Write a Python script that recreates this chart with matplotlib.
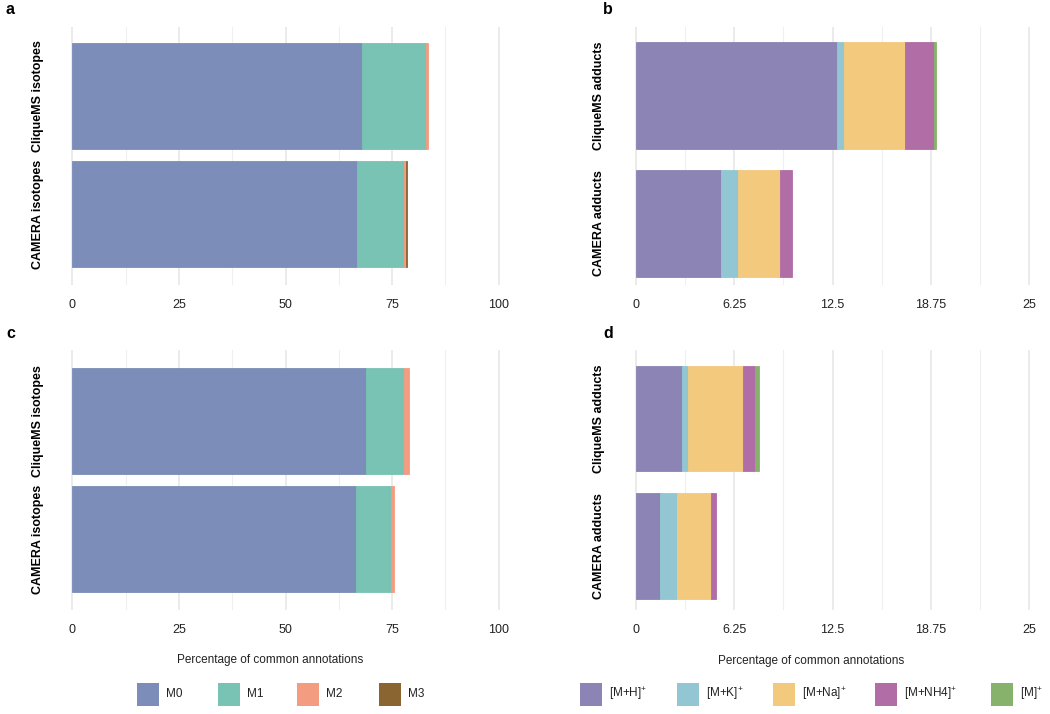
import matplotlib

matplotlib.use("Agg")
import matplotlib.pyplot as plt
import numpy as np
from matplotlib.patches import Rectangle

WIDTH = 1050
HEIGHT = 714
DPI = 100

plt.rcParams["font.family"] = ["Liberation Sans", "DejaVu Sans"]
plt.rcParams["mathtext.fontset"] = "custom"
plt.rcParams["mathtext.rm"] = "Liberation Sans"
plt.rcParams["mathtext.it"] = "Liberation Sans"

# data: percentage of common annotations, order = [CAMERA, CliqueMS]
ISOTOPES = ["M0", "M1", "M2", "M3"]
ISO_COLORS = ["#7b8db8", "#78c3b3", "#f39c80", "#8a6532"]
ADDUCTS = ["[M+H]$^{+}$", "[M+K]$^{+}$", "[M+Na]$^{+}$", "[M+NH4]$^{+}$", "[M]$^{+}$"]
ADD_COLORS = ["#8b84b4", "#92c6d3", "#f3c97e", "#b06da6", "#87b26b"]

ISO_LABELS = ["CAMERA isotopes", "CliqueMS isotopes"]
ADD_LABELS = ["CAMERA adducts", "CliqueMS adducts"]

# panel a
A_CAMERA = [66.7, 11.0, 0.6, 0.3]
A_CLIQUEMS = [67.9, 15.0, 0.5, 0.0]
# panel b
B_CAMERA = [5.41, 1.08, 2.67, 0.76, 0.0]
B_CLIQUEMS = [12.79, 0.44, 3.88, 1.85, 0.12]
# panel c
C_CAMERA = [66.5, 8.2, 0.7, 0.0]
C_CLIQUEMS = [68.8, 8.9, 1.2, 0.0]
# panel d
D_CAMERA = [1.53, 1.08, 2.16, 0.32, 0.0]
D_CLIQUEMS = [2.93, 0.38, 3.50, 0.76, 0.25]

ISO_TICKS = [0, 25, 50, 75, 100]
ADD_TICKS = [0, 6.25, 12.5, 18.75, 25]
ADD_TICKLABELS = ["0", "6.25", "12.5", "18.75", "25"]


def px_axes(fig, x0, y0, x1, y1):
    return fig.add_axes([x0 / WIDTH, 1 - y1 / HEIGHT, (x1 - x0) / WIDTH, (y1 - y0) / HEIGHT])


def draw_panel(ax, rows, colors, labels, ticks, ticklabels, xlim, ylim, height, ypad):
    ypos = np.array([1, 2])
    left = np.zeros(2)
    for i, color in enumerate(colors):
        vals = np.array([rows[0][i], rows[1][i]])
        keep = vals > 0
        if keep.any():
            ax.barh(ypos[keep], vals[keep], left=left[keep], height=height, color=color,
                    edgecolor=color, linewidth=0.6, zorder=3)
        left += vals
    ax.set_xlim(*xlim)
    ax.set_ylim(*ylim)
    ax.set_xticks(ticks)
    ax.set_xticklabels(ticklabels, fontsize=9, color="#222222")
    minor = [(ticks[k] + ticks[k + 1]) / 2 for k in range(len(ticks) - 1)]
    ax.set_xticks(minor, minor=True)
    ax.set_yticks(ypos)
    ax.set_yticklabels(labels, rotation=90, va="center", fontsize=9, fontweight="bold")
    ax.tick_params(axis="x", length=0, pad=10)
    ax.tick_params(axis="y", length=0, pad=ypad)
    ax.tick_params(axis="x", which="minor", length=0)
    ax.grid(axis="x", which="major", color="#e6e6e6", linewidth=1.1, zorder=0)
    ax.grid(axis="x", which="minor", color="#efefef", linewidth=0.8, zorder=0)
    for s in ax.spines.values():
        s.set_visible(False)


def draw_legend(ax, names, colors, xs, y):
    for name, color, x in zip(names, colors, xs):
        ax.add_patch(Rectangle((x, y - 11), 22, 23, facecolor=color, edgecolor="none"))
        ax.text(x + 29, y, name, fontsize=8.5, ha="left", va="center", color="#222222")


def main():
    fig = plt.figure(figsize=(WIDTH / DPI, HEIGHT / DPI), dpi=DPI, facecolor="white")

    iso_xlim = (-5, 105)
    add_xlim = (-1.25, 26.25)

    ax_a = px_axes(fig, 51, 27, 520, 285)
    draw_panel(ax_a, [A_CAMERA, A_CLIQUEMS], ISO_COLORS, ISO_LABELS, ISO_TICKS,
               [str(t) for t in ISO_TICKS], iso_xlim, (0.4, 2.585), 0.9, 5)
    ax_b = px_axes(fig, 616, 27, 1049, 285)
    draw_panel(ax_b, [B_CAMERA, B_CLIQUEMS], ADD_COLORS, ADD_LABELS, ADD_TICKS,
               ADD_TICKLABELS, add_xlim, (0.52, 2.535), 0.836, 8)
    ax_c = px_axes(fig, 51, 350, 520, 610)
    draw_panel(ax_c, [C_CAMERA, C_CLIQUEMS], ISO_COLORS, ISO_LABELS, ISO_TICKS,
               [str(t) for t in ISO_TICKS], iso_xlim, (0.4, 2.6), 0.9, 5)
    ax_d = px_axes(fig, 616, 350, 1049, 610)
    draw_panel(ax_d, [D_CAMERA, D_CLIQUEMS], ADD_COLORS, ADD_LABELS, ADD_TICKS,
               ADD_TICKLABELS, add_xlim, (0.498, 2.537), 0.83, 8)

    over = fig.add_axes([0, 0, 1, 1], zorder=-1)
    over.set_xlim(0, WIDTH)
    over.set_ylim(HEIGHT, 0)
    over.axis("off")

    for letter, x, y in [("a", 6, 10), ("b", 603, 10), ("c", 6, 334), ("d", 603, 334)]:
        over.text(x, y, letter, fontsize=11.5, fontweight="bold", ha="left", va="center")

    over.text(270, 660, "Percentage of common annotations", fontsize=8.5, ha="center",
              va="center", color="#222222")
    over.text(811, 661, "Percentage of common annotations", fontsize=8.5, ha="center",
              va="center", color="#222222")

    draw_legend(over, ISOTOPES, ISO_COLORS, [137, 218, 297, 379], 694)
    draw_legend(over, ADDUCTS, ADD_COLORS, [580, 677, 773, 875, 991], 694)

    fig.savefig("out.png", dpi=DPI, facecolor="white")
    plt.close(fig)


if __name__ == "__main__":
    main()
